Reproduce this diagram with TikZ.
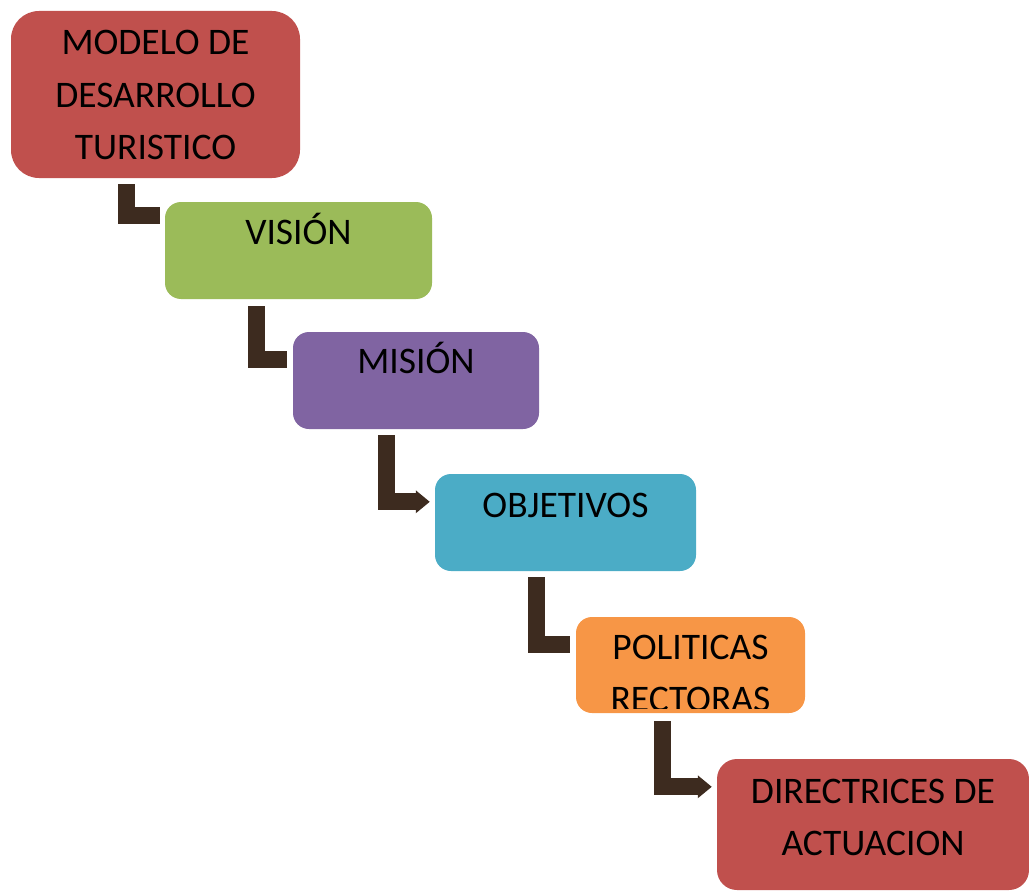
\documentclass[tikz,border=0pt]{standalone}
\usepackage{fontspec}
\newfontfamily\calib{Carlito}
\usetikzlibrary{positioning,arrows.meta}

\definecolor{rojo}{RGB}{192,80,77}
\definecolor{verde}{RGB}{155,187,89}
\definecolor{morado}{RGB}{128,100,162}
\definecolor{celeste}{RGB}{75,172,198}
\definecolor{naranja}{RGB}{247,150,70}
\definecolor{cafe}{RGB}{61,43,31}

\begin{document}
\begin{tikzpicture}[x=1pt,y=-1pt,
  caja/.style={inner sep=0pt, rounded corners=16pt},
  rotulo/.style={font=\calib\fontsize{37.5}{52.5}\selectfont, align=center, anchor=base, inner sep=0pt},
  flecha/.style={draw=cafe, line width=17pt, line join=miter},
  punta/.style={flecha, -{Triangle[length=14pt,width=22pt]}}]

\clip (0,0) rectangle (1029,891);

% cajas
\node[caja, fill=rojo, minimum width=289pt, minimum height=167pt, rounded corners=28pt] (modelo) at (155.5,94.5) {};
\node[caja, fill=verde, minimum width=267pt, minimum height=97pt] (vision) at (298.5,250.5) {};
\node[caja, fill=morado, minimum width=246pt, minimum height=97pt] (mision) at (416,380.5) {};
\node[caja, fill=celeste, minimum width=261pt, minimum height=97pt] (objetivos) at (565.5,522.5) {};
\node[caja, fill=naranja, minimum width=229pt, minimum height=96pt] (politicas) at (690.5,665) {};
\node[caja, fill=rojo, minimum width=312pt, minimum height=131pt, rounded corners=20pt] (directrices) at (873,824.5) {};

% textos (base = ultima linea)
\node[rotulo] (tmodelo) at (155.5,159.6) {MODELO DE\\DESARROLLO\\TURISTICO};
\node[rotulo] (tvision) at (298.5,244.1) {VISIÓN};
\node[rotulo] (tmision) at (416,373.1) {MISIÓN};
\node[rotulo] (tobjetivos) at (565.5,517.1) {OBJETIVOS};
\begin{scope}
  \clip ([yshift=5pt]politicas.south west) rectangle (politicas.north east);
  \node[rotulo] (tpoliticas) at (690.5,711.6) {POLITICAS\\RECTORAS};
\end{scope}
\node[rotulo] (tdirectrices) at (873,855.6) {DIRECTRICES DE\\ACTUACION};

% flechas
\draw[flecha] ([xshift=115.5pt,yshift=-6pt]modelo.south west) |- ([xshift=-5pt,yshift=-13.5pt]vision.north west);
\draw[flecha] ([xshift=92pt,yshift=-7pt]vision.south west) |- ([xshift=-6pt,yshift=-27.5pt]mision.north west);
\draw[punta] ([xshift=94pt,yshift=-6pt]mision.south west) |- ([xshift=-5pt,yshift=-28pt]objetivos.north west);
\draw[flecha] ([xshift=102pt,yshift=-6pt]objetivos.south west) |- ([xshift=-6pt,yshift=-27.5pt]politicas.north west);
\draw[punta] ([xshift=87pt,yshift=-8pt]politicas.south west) |- ([xshift=-5pt,yshift=-28pt]directrices.north west);

\end{tikzpicture}
\end{document}
